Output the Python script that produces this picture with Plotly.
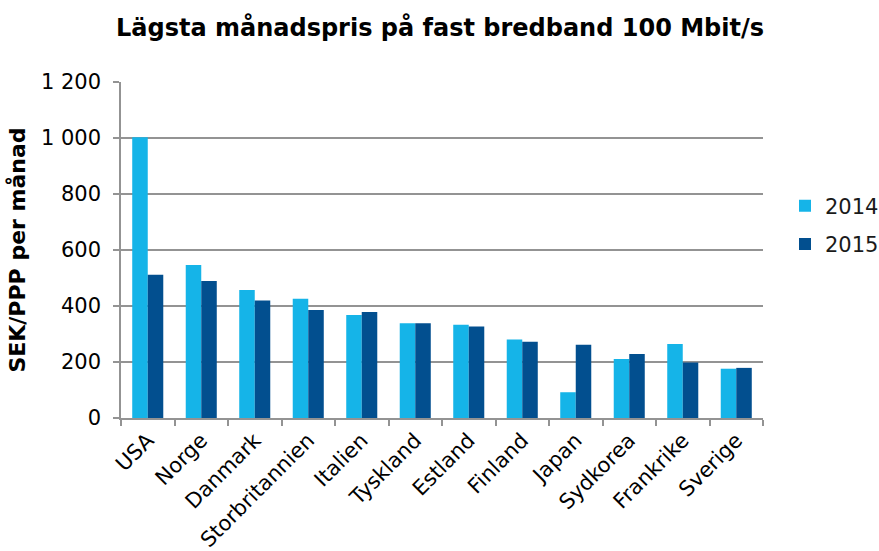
import plotly.graph_objects as go

countries = ["USA", "Norge", "Danmark", "Storbritannien", "Italien", "Tyskland",
             "Estland", "Finland", "Japan", "Sydkorea", "Frankrike", "Sverige"]
values_2014 = [1003, 546, 457, 426, 368, 338, 333, 280, 92, 211, 264, 176]
values_2015 = [512, 489, 420, 386, 379, 338, 327, 272, 262, 229, 198, 179]

FONT = "DejaVu Sans"
GRID = "#939393"
W, H = 879, 551

fig = go.Figure()
fig.add_trace(go.Bar(name="2014", x=countries, y=values_2014, marker_color="#15B4E8",
                     marker_line_width=0, legendgroup="a"))
fig.add_trace(go.Bar(name="2015", x=countries, y=values_2015, marker_color="#024F8F",
                     marker_line_width=0, legendgroup="b"))

fig.update_layout(
    width=W, height=H,
    paper_bgcolor="white", plot_bgcolor="white",
    margin=dict(l=121, r=116, t=82, b=133, autoexpand=False),
    barmode="group", bargap=0.42, bargroupgap=0,
    separators=", ",
    font=dict(family=FONT, size=21, color="#1a1a1a"),
    title=dict(text="<b>Lägsta månadspris på fast bredband 100 Mbit/s</b>",
               x=440 / W, xanchor="center", xref="container",
               y=1 - 28 / H, yanchor="middle", yref="container",
               font=dict(family=FONT, size=24, color="#000")),
    legend=dict(x=785 / W, xanchor="left", xref="container",
                y=1 - 225 / H, yanchor="middle", yref="container",
                font=dict(family=FONT, size=21, color="#1a1a1a"), itemwidth=30,
                tracegroupgap=8, bgcolor="rgba(0,0,0,0)"),
    showlegend=True,
)
fig.update_xaxes(
    automargin=False,
    showline=True, linecolor=GRID, linewidth=1.5,
    ticks="outside", tickson="boundaries", ticklen=6, tickcolor=GRID, tickwidth=1.5,
    tickangle=-45, tickfont=dict(family=FONT, size=21, color="#000"),
    showgrid=False,
)
fig.update_yaxes(
    automargin=False,
    range=[0, 1200], dtick=200, tickformat=",d",
    showline=True, linecolor=GRID, linewidth=1.5,
    ticks="outside", ticklen=6, tickcolor=GRID, tickwidth=1.5,
    ticklabelstandoff=8,
    showgrid=True, gridcolor=GRID, gridwidth=1.5,
    zeroline=False,
    tickfont=dict(family=FONT, size=21, color="#000"),
    title=dict(text="<b>SEK/PPP per månad</b>", font=dict(family=FONT, size=22, color="#000"),
               standoff=9),
)

fig.write_html("out.html", config={"displayModeBar": False},
               post_script="document.body.style.margin='0';")
